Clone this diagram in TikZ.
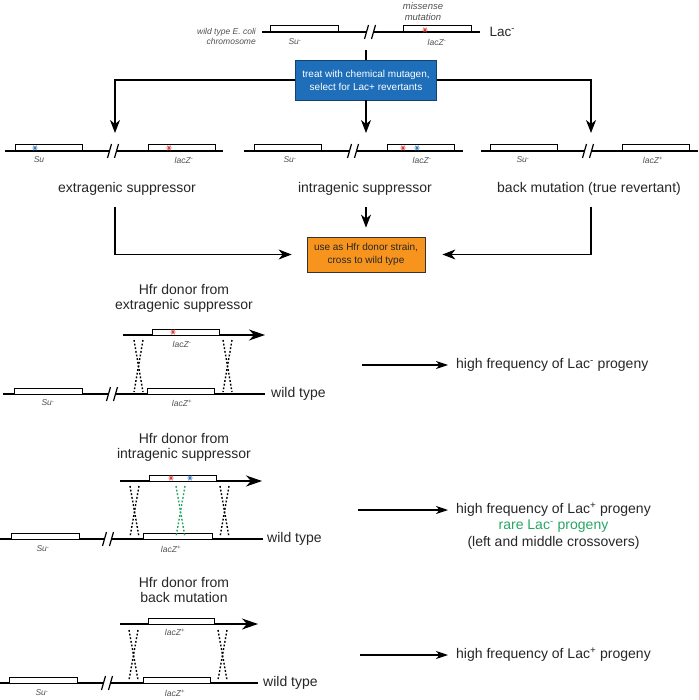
\documentclass[tikz,border=0pt]{standalone}
\usepackage{fontspec}
\setmainfont{Liberation Sans}
\usetikzlibrary{arrows.meta,positioning}

\definecolor{mutagenblue}{RGB}{30,110,185}
\definecolor{donororange}{RGB}{247,148,29}
\definecolor{starred}{RGB}{225,60,60}
\definecolor{starblue}{RGB}{55,120,195}
\definecolor{xogreen}{RGB}{40,165,100}
\definecolor{labgray}{RGB}{80,80,80}

\newcommand{\smin}{\textsuperscript{-}}
\newcommand{\spl}{\textsuperscript{+}}

% gene box sitting on a chromosome line: \genebox{x1}{x2}{y}
\newcommand{\genebox}[3]{\draw[gene] (#1,#3-6) rectangle (#2,#3);}
% break in a chromosome line: \chrbreak{x}{y}
\newcommand{\chrbreak}[2]{%
  \fill[white] (#1-3.5,#2-2) rectangle (#1+3.5,#2+2);
  \draw[chrom] (#1-5.5,#2+7) -- (#1-1.5,#2-7);
  \draw[chrom] (#1+1.5,#2+7) -- (#1+5.5,#2-7);}
% crossover between donor and recipient: \xover[colour]{x}{ytop}{ybottom}
\newcommand{\xover}[4][black]{%
  \draw[xo,#1] (#2,#3) -- (#2+9,#4);
  \draw[xo,#1] (#2+9,#3) -- (#2,#4);}

\tikzset{
  mutstar/.pic={\draw[line width=0.8pt] (-2.6,0) -- (2.6,0) (-1.5,-2.3) -- (1.5,2.3) (-1.5,2.3) -- (1.5,-2.3);}
}

\begin{document}
\begin{tikzpicture}[x=1pt,y=-1pt,
    chrom/.style={line width=1.2pt},
    gene/.style={draw, fill=white, line width=1pt},
    xo/.style={line width=1.4pt, dash pattern=on 1.8pt off 1.9pt},
    glabel/.style={font=\fontsize{8.5}{10}\selectfont\itshape, text=labgray, inner sep=0pt},
    mainlabel/.style={font=\fontsize{14}{15}\selectfont, text=black!85, inner sep=1pt},
    flow/.style={line width=1.1pt, -{Stealth[length=13pt,width=10pt,inset=4pt]}},
    resarrow/.style={line width=1.1pt, -{Stealth[length=12pt,width=8pt,inset=3.5pt]}},
    hfrarrow/.style={line width=1.2pt, -{Stealth[length=16pt,width=11pt,inset=5pt]}},
    mutagenbox/.style={draw=mutagenblue!60!black, fill=mutagenblue, text=white, line width=0.8pt,
      minimum width=141pt, minimum height=40pt, align=center, font=\fontsize{10}{13}\selectfont},
    donorbox/.style={draw=black!80, fill=donororange, text=black!85, line width=0.8pt,
      minimum width=118pt, minimum height=35pt, align=center, font=\fontsize{10}{13}\selectfont}]
\useasboundingbox (0,0) rectangle (698,700);

% starting strain
\draw[chrom] (262,32) -- (480,32);
\chrbreak{370}{32}
\genebox{270}{338}{32}
\genebox{403}{471}{32}
\pic[starred] at (425,30) {mutstar};
\node[glabel, anchor=east, align=right] (wtchrom) at (256,36) {wild type E. coli\\chromosome};
\node[glabel] (su0) at (295,42) {Su\smin};
\node[glabel] (lac0) at (437,42) {lacZ\smin};
\node[font=\fontsize{9.5}{11}\selectfont\itshape, text=labgray, align=center] (missense) at (423,12) {missense\\mutation};
\node[font=\fontsize{13.5}{15}\selectfont, text=black!85, anchor=west] (lacminus) at (486,32) {Lac\smin};

% mutagenesis and selection
\node[mutagenbox] (mutagen) at (366,80) {treat with chemical mutagen,\\select for Lac+ revertants};
\coordinate (stem) at (366,50);
\coordinate (exttip) at (115,133);
\coordinate (intratip) at (366,133);
\coordinate (backtip) at (591,133);
\draw[line width=1.1pt] (stem) -- (mutagen.north);
\draw[flow] (mutagen.west) -| (exttip);
\draw[flow] (mutagen.south) -- (intratip);
\draw[flow] (mutagen.east) -| (backtip);

% extragenic suppressor
\draw[chrom] (5,151) -- (223,151);
\chrbreak{113}{151}
\genebox{15}{82}{151}
\genebox{148}{215}{151}
\pic[starblue] at (35,148) {mutstar};
\pic[starred] at (169,148) {mutstar};
\node[glabel] (su1) at (39,160) {Su};
\node[glabel] (lac1) at (184,160) {lacZ\smin};
\node[mainlabel] (extlab) at (127,189) {extragenic suppressor};

% intragenic suppressor
\draw[chrom] (244,151) -- (463,151);
\chrbreak{353}{151}
\genebox{254}{321}{151}
\genebox{387}{454}{151}
\pic[starred] at (403,148) {mutstar};
\pic[starblue] at (417,148) {mutstar};
\node[glabel] (su2) at (290,160) {Su\smin};
\node[glabel] (lac2) at (422,160) {lacZ\smin};
\node[mainlabel] (intralab) at (365,189) {intragenic suppressor};

% back mutation
\draw[chrom] (481,151) -- (698,151);
\chrbreak{588}{151}
\genebox{490}{557}{151}
\genebox{622}{689}{151}
\node[glabel] (su3) at (523,160) {Su\smin};
\node[glabel] (lac3) at (653,160) {lacZ\spl};
\node[mainlabel] (backlab) at (589,189) {back mutation (true revertant)};

% Hfr donor
\node[donorbox] (donor) at (366,254.5) {use as Hfr donor strain,\\cross to wild type};
\coordinate (extfoot) at (115,207);
\coordinate (intrafoot) at (366,207);
\coordinate (backfoot) at (591,207);
\draw[flow, shorten >=15pt] (extfoot) |- (donor.west);
\draw[flow, shorten >=9pt] (intrafoot) -- (donor.north);
\draw[flow, shorten >=17pt] (backfoot) |- (donor.east);

% cross 1: donor from extragenic suppressor
\node[mainlabel, align=center] (hfr1) at (184,298.5) {Hfr donor from\\extragenic suppressor};
\draw[hfrarrow] (123,335) -- (265,335);
\genebox{152}{219}{335}
\pic[starred] at (173,332) {mutstar};
\node[glabel] (hlac1) at (182,344) {lacZ\smin};
\draw[chrom] (3,394) -- (265,394);
\chrbreak{112}{394}
\genebox{14}{82}{394}
\genebox{147}{214}{394}
\node[glabel] (wsu1) at (48,403) {Su\smin};
\node[glabel] (wlac1) at (182,403) {lacZ\spl};
\node[mainlabel, anchor=west] (wt1) at (270,394) {wild type};
\xover{134}{340}{392}
\xover{223}{340}{392}
\coordinate (res1tail) at (362,365);
\node[mainlabel, anchor=west] (res1) at (455,365) {high frequency of Lac\smin{} progeny};
\draw[resarrow, shorten >=7pt] (res1tail) -- (res1.west);

% cross 2: donor from intragenic suppressor
\node[mainlabel, align=center] (hfr2) at (184,447.5) {Hfr donor from\\intragenic suppressor};
\draw[hfrarrow] (120,481) -- (262,481);
\genebox{149}{216}{481}
\pic[starred] at (171,478) {mutstar};
\pic[starblue] at (190,478) {mutstar};
\draw[chrom] (0,539) -- (263,539);
\chrbreak{108}{539}
\genebox{11}{79}{539}
\genebox{143}{212}{539}
\node[glabel] (wsu2) at (43,549) {Su\smin};
\node[glabel] (wlac2) at (171,549) {lacZ\spl};
\node[mainlabel, anchor=west] (wt2) at (266,539) {wild type};
\xover{130}{486}{537}
\xover[xogreen]{176}{486}{537}
\xover{220}{486}{537}
\coordinate (res2tail) at (358,510);
\node[mainlabel, anchor=west] (res2a) at (455,510) {high frequency of Lac\spl{} progeny};
\node[mainlabel, text=xogreen, below=1pt of res2a] (res2b) {rare Lac\smin{} progeny};
\node[mainlabel, below=1pt of res2b] (res2c) {(left and middle crossovers)};
\draw[resarrow, shorten >=7pt] (res2tail) -- (res2a.west);

% cross 3: donor from back mutation
\node[mainlabel, align=center] (hfr3) at (184,590) {Hfr donor from\\back mutation};
\draw[hfrarrow] (120,624) -- (258,624);
\genebox{148}{214}{624}
\node[glabel] (hlac3) at (175,632) {lacZ\spl};
\draw[chrom] (0,683) -- (258,683);
\chrbreak{107}{683}
\genebox{9}{77}{683}
\genebox{143}{210}{683}
\node[glabel] (wsu3) at (42,693) {Su\smin};
\node[glabel] (wlac3) at (175,693) {lacZ\spl};
\node[mainlabel, anchor=west] (wt3) at (262,683) {wild type};
\xover{129}{630}{680}
\xover{218}{630}{680}
\coordinate (res3tail) at (360,655);
\node[mainlabel, anchor=west] (res3) at (455,655) {high frequency of Lac\spl{} progeny};
\draw[resarrow, shorten >=7pt] (res3tail) -- (res3.west);
\end{tikzpicture}
\end{document}
